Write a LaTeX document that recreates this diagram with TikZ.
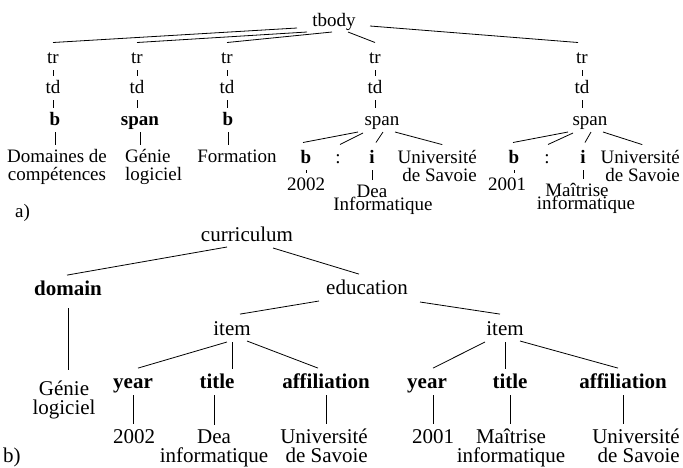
\documentclass[tikz,border=0pt]{standalone}
\usepackage{fontspec}
\setmainfont{Liberation Serif}
\tikzset{
  fa/.style={font=\fontsize{19}{18}\selectfont},
  fab/.style={font=\fontsize{19}{18}\selectfont\bfseries},
  fb/.style={font=\fontsize{21}{19}\selectfont},
  fbb/.style={font=\fontsize{21}{19}\selectfont\bfseries},
  lbl/.style={inner sep=1pt, anchor=base},
  sa/.style={lbl, text height=13.3pt, text depth=3.8pt},
  sb/.style={lbl, text height=14.7pt, text depth=4.2pt},
  ta/.style={sa, fa}, tab/.style={sa, fab},
  tb/.style={sb, fb}, tbb/.style={sb, fbb},
  mla/.style={lbl, fa, align=center},
  mlb/.style={lbl, fb, align=center},
  conn/.style={line width=0.8pt},
  tick/.style={conn, shorten <=2pt, shorten >=3pt},
}
\begin{document}
\begin{tikzpicture}[x=1pt,y=-1pt]
\useasboundingbox (0,0) rectangle (683,467);

% ---------- part a ----------
\node[ta] (tbody) at (334,26) {tbody};
\foreach \n/\x in {1/53,2/137,3/227,4/375,5/582}{
  \node[ta] (tr\n) at (\x,63) {tr};
  \node[ta] (td\n) at (\x,93) {td};
}
\node[tab] (b1) at (55,125) {b};
\node[tab] (sp2) at (140,125) {span};
\node[tab] (b3) at (228,125) {b};
\node[ta] (spA) at (382,125) {span};
\node[ta] (spB) at (590,125) {span};

\node[mla] (dom) at (57,180) {Domaines de\\compétences};
\node[mla, align=left, anchor=base west] (gen) at (124,180) {Génie\\logiciel};
\node[ta] (form) at (237,162) {Formation};

\node[tab] (bA) at (306,163) {b};
\node[ta] (cA) at (338,163) {:};
\node[tab] (iA) at (372,163) {i};
\node[mla, align=right, anchor=base east] (uA) at (478,181) {Université\\de Savoie};
\node[ta] (yA) at (306,190) {2002};
\node[ta, text depth=0pt] (deaA) at (372,197) {Dea};
\node[ta, text height=11pt] (infA) at (383,210) {Informatique};

\node[tab] (bB) at (514,163) {b};
\node[ta] (cB) at (547,163) {:};
\node[tab] (iB) at (583,163) {i};
\node[mla, align=right, anchor=base east] (uB) at (681,181) {Université\\de Savoie};
\node[ta] (yB) at (507,190) {2001};
\node[ta, text depth=0pt] (maiB) at (577,196) {Maîtrise};
\node[ta, text height=11pt] (infB) at (586,209) {informatique};

\node[lbl, fa, anchor=base west] (la) at (14,217) {a)};

\draw[conn] ([shift={(-37,2)}]tbody.base) -- ([shift={(0,-6)}]tr1.north);
\draw[conn] ([shift={(-27,6)}]tbody.base) -- ([shift={(0,-6)}]tr2.north);
\draw[conn] ([shift={(-2,6)}]tbody.base) -- ([shift={(0,-6)}]tr3.north);
\draw[conn] ([shift={(14,6)}]tbody.base) -- ([shift={(0,-6)}]tr4.north);
\draw[conn] ([shift={(36,0)}]tbody.base) -- ([shift={(-4,-6)}]tr5.north);

\foreach \n in {1,...,5}{
  \draw[tick] (tr\n.south) -- (tr\n.south |- td\n.north);
}
\draw[tick] (td1.south) -- (td1.south |- b1.north);
\draw[tick] (td2.south) -- (td2.south |- sp2.north);
\draw[tick] (td3.south) -- (td3.south |- b3.north);
\draw[tick] (td4.south) -- (td4.south |- spA.north);
\draw[tick] (td5.south) -- (td5.south |- spB.north);
\draw[tick] (b1.south) -- (b1.south |- dom.north);
\draw[tick] (sp2.south) -- (sp2.south |- gen.north);
\draw[tick] (b3.south) -- (b3.south |- form.north);

\draw[conn] ([shift={(-24,7)}]spA.base) -- ([shift={(-3,-6)}]bA.north);
\draw[conn] ([shift={(-19,8)}]spA.base) -- ([shift={(2,-4)}]cA.north);
\draw[conn] ([shift={(1,7)}]spA.base) -- ([shift={(4,-6)}]iA.north);
\draw[conn] ([shift={(13,7)}]spA.base) -- ([shift={(5,-4)}]uA.north);
\draw[tick] (bA.south) -- (bA.south |- yA.north);
\draw[tick] (iA.south) -- (iA.south |- deaA.north);

\draw[conn] ([shift={(-22,7)}]spB.base) -- ([shift={(-1,-6)}]bB.north);
\draw[conn] ([shift={(-17,8)}]spB.base) -- ([shift={(1,-4)}]cB.north);
\draw[conn] ([shift={(1,7)}]spB.base) -- ([shift={(2,-6)}]iB.north);
\draw[conn] ([shift={(13,7)}]spB.base) -- ([shift={(2,-4)}]uB.north);
\draw[tick] (bB.south) -- (bB.south |- yB.north);
\draw[tick] (iB.south) -- (iB.south |- maiB.north);

% ---------- part b ----------
\node[tb] (cur) at (247,241) {curriculum};
\node[tbb] (dom2) at (68,295) {domain};
\node[tb] (edu) at (367,294) {education};
\node[tb] (it1) at (232,335) {item};
\node[tb] (it2) at (505,335) {item};
\node[mlb] (gen2) at (64,414) {Génie\\logiciel};
\node[tbb] (yr1) at (133,388) {year};
\node[tbb] (ti1) at (217,388) {title};
\node[tbb] (af1) at (326,388) {affiliation};
\node[tbb] (yr2) at (427,388) {year};
\node[tbb] (ti2) at (510,388) {title};
\node[tbb] (af2) at (623,388) {affiliation};
\node[tb] (v1) at (134,443) {2002};
\node[mlb] (dea2) at (214,462) {Dea\\informatique};
\node[mlb, align=right, anchor=base east] (u1) at (369,462) {Université\\de Savoie};
\node[tb] (v2) at (433,443) {2001};
\node[mlb] (mai2) at (511,462) {Maîtrise\\informatique};
\node[mlb, align=right, anchor=base east] (u2) at (681,462) {Université\\de Savoie};
\node[lbl, fb, anchor=base west] (lb) at (2,462) {b)};

\draw[conn] ([shift={(-20,6)}]cur.base) -- ([shift={(-1,-4)}]dom2.north);
\draw[conn] ([shift={(26,7)}]cur.base) -- ([shift={(-8,-4)}]edu.north);
\draw[conn] ([shift={(-48,7)}]edu.base) -- ([shift={(8,-5)}]it1.north);
\draw[conn] ([shift={(53,8)}]edu.base) -- ([shift={(-5,-5)}]it2.north);
\draw[conn] ([shift={(-5,7)}]it1.base) -- ([shift={(5,-4)}]yr1.north);
\draw[conn] ([shift={(15,6)}]it1.base) -- ([shift={(-8,-4)}]af1.north);
\draw[tick] (it1.south) -- (it1.south |- ti1.north);
\draw[conn] ([shift={(-20,7)}]it2.base) -- ([shift={(6,-4)}]yr2.north);
\draw[conn] ([shift={(15,6)}]it2.base) -- ([shift={(-5,-4)}]af2.north);
\draw[tick] (it2.south) -- (it2.south |- ti2.north);

\draw[conn, shorten <=8pt, shorten >=9pt] (dom2.south) -- (dom2.south |- gen2.north);
\draw[tick] (yr1.south) -- (yr1.south |- v1.north);
\draw[tick] (dea2.north |- ti1.south) -- (dea2.north);
\draw[tick] (af1.south) -- (af1.south |- u1.north);
\draw[tick] (v2.north |- yr2.south) -- (v2.north);
\draw[tick] (ti2.south) -- (ti2.south |- mai2.north);
\draw[tick] (af2.south) -- (af2.south |- u2.north);
\end{tikzpicture}
\end{document}
